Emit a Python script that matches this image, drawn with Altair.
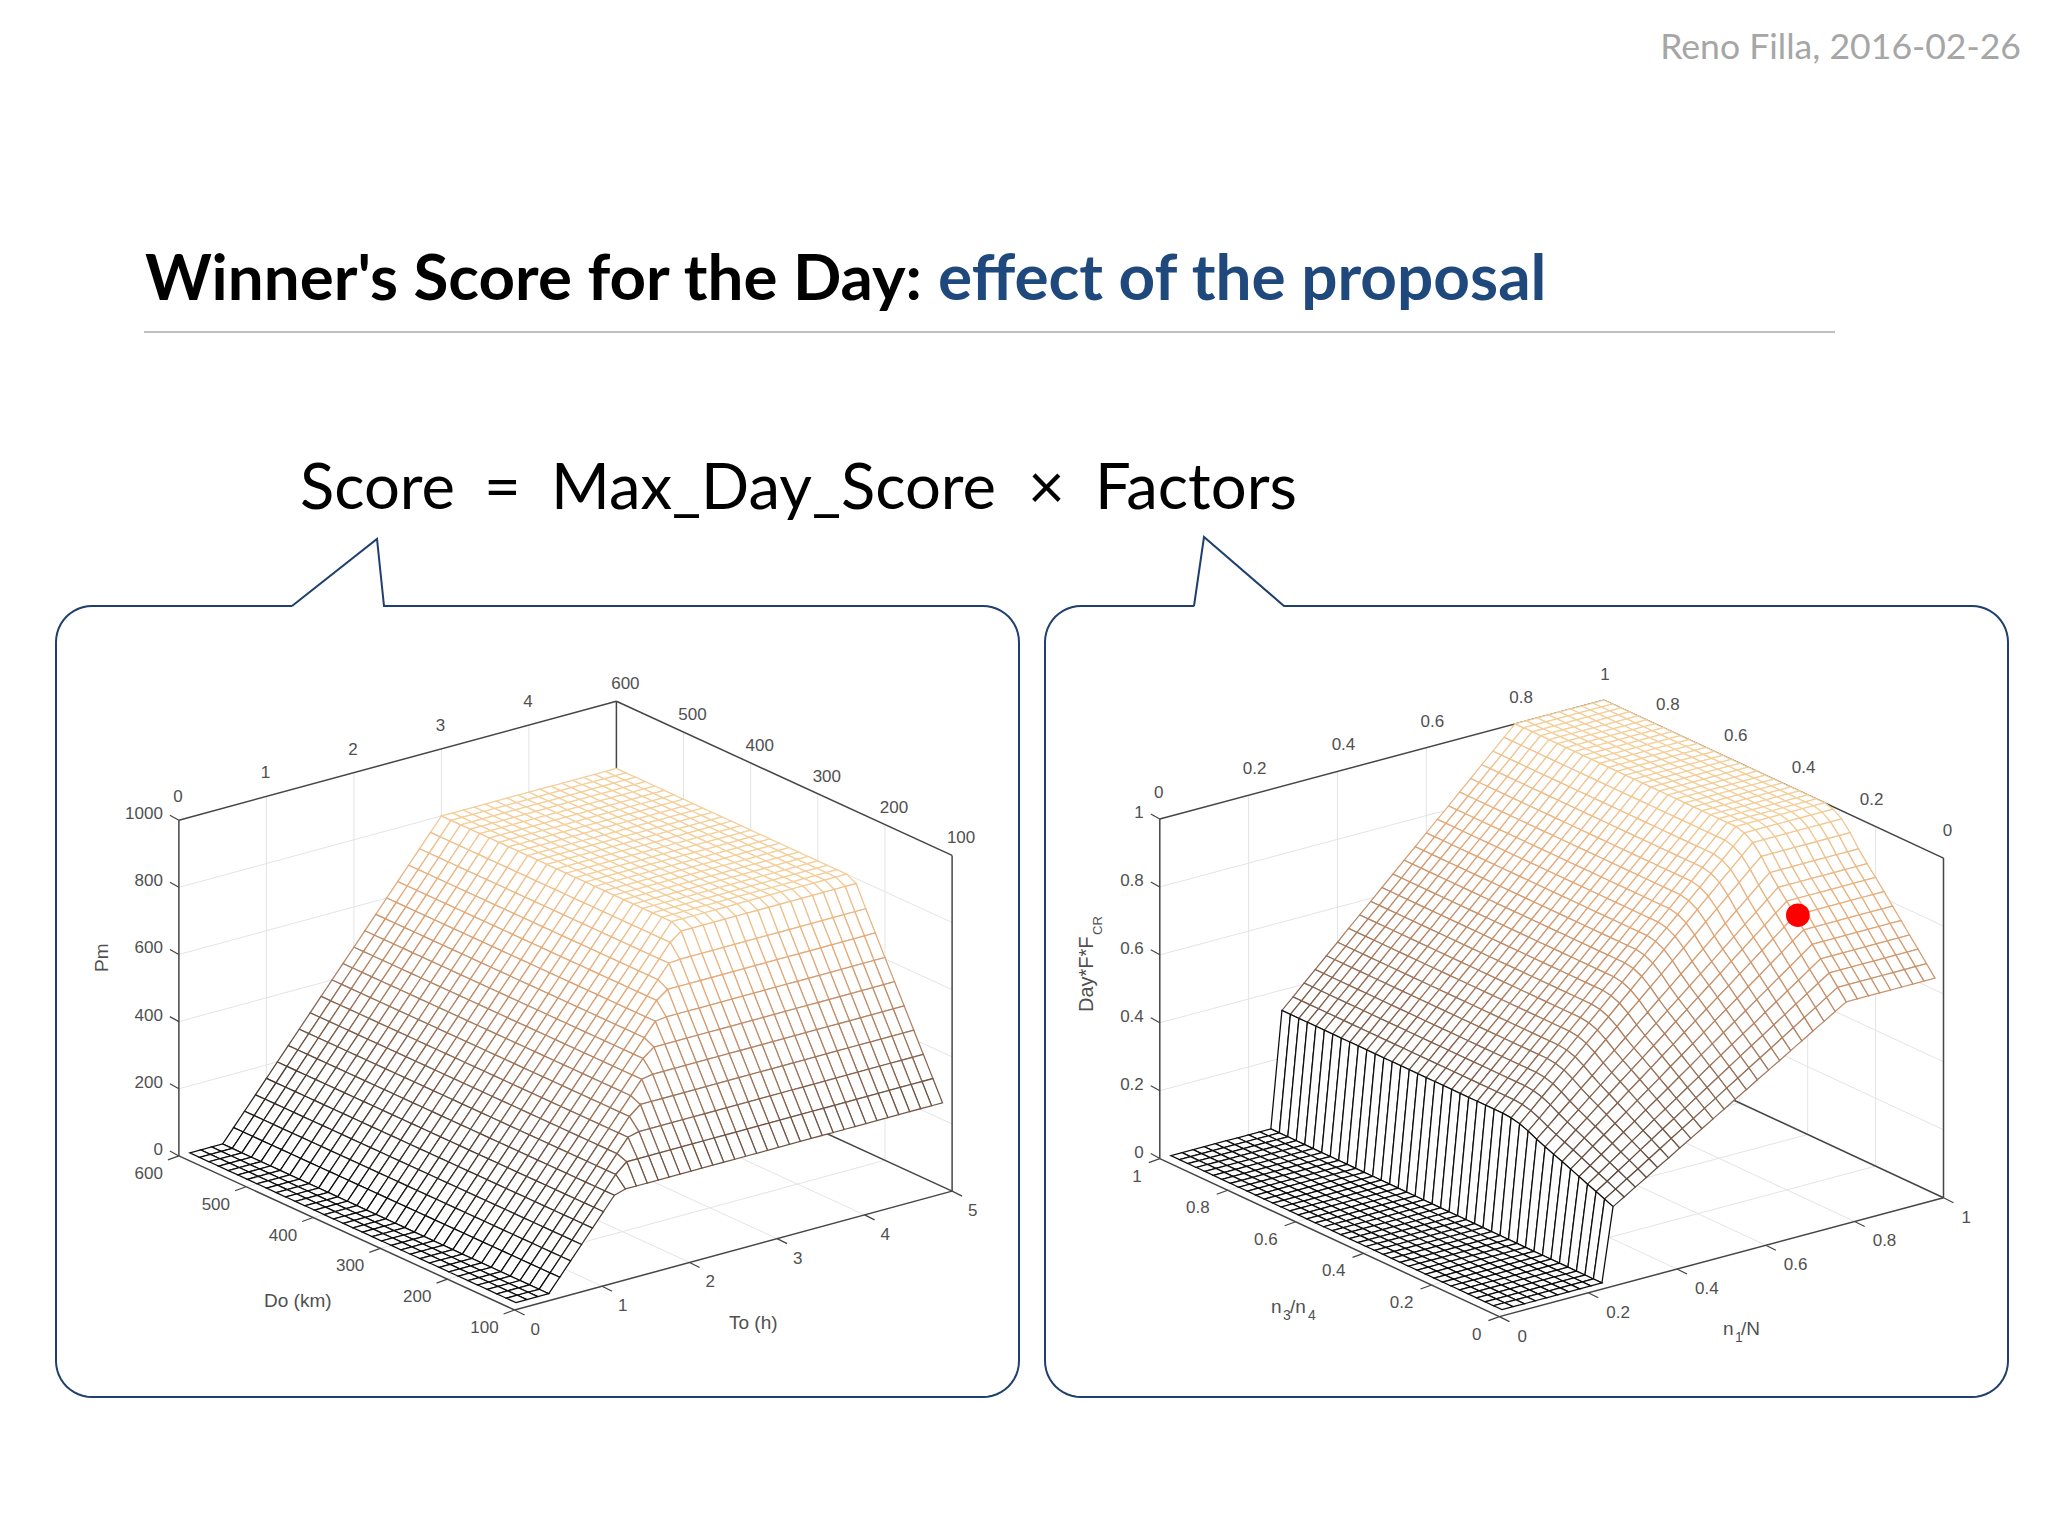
import math
import altair as alt

# ---------- read-off values ----------
TO_GRID = [.125, .25, .375, .5, .625, .75, .875, 1.0, 1.125, 1.25, 1.375, 1.5, 1.625, 1.75, 1.875, 2.0, 2.125, 2.25,
           2.375, 2.5, 2.625, 2.75, 2.875, 3.0, 3.125, 3.25, 3.375, 3.5, 3.625, 3.75, 3.875, 4.0, 4.125, 4.25, 4.375,
           4.5, 4.625, 4.75, 4.875, 5.0]
DO_GRID = [114.3, 128.6, 142.9, 157.1, 171.4, 185.7, 200, 214.3, 228.6, 242.9, 257.1, 271.4, 285.7, 300, 314.3, 328.6,
           342.9, 357.1, 371.4, 385.7, 400, 414.3, 428.6, 442.9, 457.1, 471.4, 485.7, 500, 514.3, 528.6, 542.9, 557.1,
           571.4, 585.7, 600]
PM_BY_TO = [0, 0, 0, 0, 40, 80, 120, 160, 200, 240, 280, 320, 360, 400, 440, 480, 520, 560, 600, 640, 680, 720, 760,
            800] + [800] * 16
PM_BY_DO = [250, 309, 368, 427, 486, 545, 604, 664, 723, 785] + [800] * 25

N1_GRID = [round(0.025 * i, 3) for i in range(1, 41)]
N3_GRID = [round(0.025 * i, 3) for i in range(1, 41)]
F_BY_N1 = [0] * 10 + [.34, .371, .403, .434, .466, .497, .529, .56, .591, .623, .654, .686, .717, .749, .78, .811, .843,
                      .874, .906, .937, .969, 1.0] + [1.0] * 8
G_BY_N3 = [.635, .666, .697, .727, .758, .789, .82, .85, .879, .911, .947, .976, .993, 1.0] + [1.0] * 26
RED_POINT = (0.825, 0.2, 0.80)

LEFT_TO_TICKS = [0, 1, 2, 3, 4, 5]
LEFT_DO_TICKS = [100, 200, 300, 400, 500, 600]
LEFT_Z_TICKS = [0, 200, 400, 600, 800, 1000]
RIGHT_TICKS = [0, 0.2, 0.4, 0.6, 0.8, 1]

# page layout of the two 3-D boxes: origin, three axis vectors (px)
LEFT_BOX = dict(o=(514.6, 1310), a=(437.5, -118.9), b=(-335.7, -154.1), h=335.7)
RIGHT_BOX = dict(o=(1499.4, 1316.6), a=(444.1, -118.9), b=(-339.6, -158.0), h=339.6)


def proj(box, a, b, c):
    return (box["o"][0] + a * box["a"][0] + b * box["b"][0],
            box["o"][1] + a * box["a"][1] + b * box["b"][1] - c * box["h"])


def fmt(v):
    return f"{v:g}"


segs_grid, segs_axis, ticks, labels_tick = [], [], [], []


def seg(store, p, q):
    store.append(dict(x=p[0], y=p[1], x2=q[0], y2=q[1]))


def build_box(box, a_ticks, b_ticks, c_ticks, an, bn, cn):
    P = lambda a, b, c: proj(box, a, b, c)
    is_left = box is LEFT_BOX
    for v in a_ticks[1:-1]:
        a = an(v)
        seg(segs_grid, P(a, 0, 0), P(a, 1, 0))
        seg(segs_grid, P(a, 1, 0), P(a, 1, 1))
    for v in b_ticks[1:-1]:
        b = bn(v)
        seg(segs_grid, P(0, b, 0), P(1, b, 0))
        seg(segs_grid, P(1, b, 0), P(1, b, 1))
    for v in c_ticks[1:-1]:
        c = cn(v)
        seg(segs_grid, P(0, 1, c), P(1, 1, c))
        seg(segs_grid, P(1, 1, c), P(1, 0, c))
    for s, e in [((0, 1, 0), (0, 1, 1)), ((0, 1, 1), (1, 1, 1)), ((1, 1, 1), (1, 0, 1)), ((1, 0, 1), (1, 0, 0)),
                 ((1, 1, 0), (1, 1, 1)), ((0, 0, 0), (0, 1, 0)), ((0, 0, 0), (1, 0, 0)), ((1, 0, 0), (1, 1, 0))]:
        seg(segs_axis, P(*s), P(*e))
    for v in a_ticks:
        p = P(an(v), 0, 0)
        seg(ticks, p, (p[0] + 10, p[1] + 5))
        labels_tick.append(dict(x=p[0] + (16 if is_left else 18), y=p[1] + 20, t=fmt(v), al="left"))
        p = P(an(v), 1, 1)
        if v != a_ticks[-1]:
            labels_tick.append(dict(x=p[0] + (6 if "." in fmt(v) else -1), y=p[1] - (23 if is_left else 26), t=fmt(v),
                                    al="center"))
    for v in b_ticks:
        p = P(0, bn(v), 0)
        seg(ticks, p, (p[0] - 11, p[1] + 4))
        labels_tick.append(dict(x=p[0] - (16 if is_left else 18), y=p[1] + 18, t=fmt(v), al="right"))
        p = P(1, bn(v), 1)
        if is_left:
            dx, dy = 9, -17
        else:
            dx, dy = {0: 4, 1: 1}.get(v, -4), -27 if v != 1 else -25
        labels_tick.append(dict(x=p[0] + dx, y=p[1] + dy, t=fmt(v), al="center"))
    for v in c_ticks:
        p = P(0, 1, cn(v))
        seg(ticks, p, (p[0] - 9, p[1] - 5))
        labels_tick.append(dict(x=p[0] - 16, y=p[1] - 6, t=fmt(v), al="right"))


build_box(LEFT_BOX, LEFT_TO_TICKS, LEFT_DO_TICKS, LEFT_Z_TICKS, lambda v: v / 5, lambda v: (v - 100) / 500,
          lambda v: v / 1000)
build_box(RIGHT_BOX, RIGHT_TICKS, RIGHT_TICKS, RIGHT_TICKS, lambda v: v, lambda v: v, lambda v: v)

features = []


def add_surface(box, A, B, Z, zmax):
    na, nb = len(A), len(B)
    for j in range(nb - 2, -1, -1):
        for i in range(na - 2, -1, -1):
            ring = []
            for ii, jj in [(i, j), (i + 1, j), (i + 1, j + 1), (i, j + 1), (i, j)]:
                x, y = proj(box, A[ii], B[jj], Z(ii, jj))
                ring.append([round(x - 8, 2), round(y - 8, 2)])
            features.append({"type": "Feature", "properties": {"z": Z(i, j) / zmax},
                             "geometry": {"type": "Polygon", "coordinates": [ring]}})


add_surface(LEFT_BOX, [t / 5 for t in TO_GRID], [(d - 100) / 500 for d in DO_GRID],
            lambda i, j: min(PM_BY_TO[i], PM_BY_DO[j]) / 1000, 0.8)
add_surface(RIGHT_BOX, N1_GRID, N3_GRID, lambda i, j: F_BY_N1[i] * G_BY_N3[j], 1.0)

# ---------- slide furniture ----------


def callout(x0, x1, y0, y1, r, tail):
    pts = [tail[0], tail[1], tail[2]]
    for cx, cy, a0 in [(x1 - r, y0 + r, -90), (x1 - r, y1 - r, 0), (x0 + r, y1 - r, 90), (x0 + r, y0 + r, 180)]:
        for k in range(13):
            a = math.radians(a0 + 7.5 * k)
            pts.append((cx + r * math.cos(a), cy + r * math.sin(a)))
    pts.append(tail[0])
    return pts


box_rows = []
for name, pts in [("L", callout(56, 1019, 606, 1397, 36, [(292, 606), (377, 539), (384, 606)])),
                  ("R", callout(1045, 2008, 606, 1397, 36, [(1194, 606), (1204, 537), (1284, 606)]))]:
    for k, (x, y) in enumerate(pts):
        box_rows.append(dict(x=x, y=y, k=k, n=name))

XS = alt.Scale(domain=[8, 2040], nice=False, zero=False)
YS = alt.Scale(domain=[8, 1528], reverse=True, nice=False, zero=False)
X = alt.X("x:Q", scale=XS, axis=None)
Y = alt.Y("y:Q", scale=YS, axis=None)


def rules(rows, color, w):
    return alt.Chart(alt.Data(values=rows)).mark_rule(color=color, strokeWidth=w).encode(
        x=X, y=Y, x2="x2:Q", y2="y2:Q")


def text(rows, font="Liberation Sans", size=17, color="#505050", weight="normal", align="left", angle=0):
    return alt.Chart(alt.Data(values=rows)).mark_text(font=font, fontSize=size, color=color, fontWeight=weight,
                                                      align=align, baseline="middle", angle=angle).encode(
        x=X, y=Y, text="t:N")


def T(x, y, t):
    return dict(x=x, y=y, t=t)


surface = alt.Chart(alt.Data(values=features)).mark_geoshape(fill="white", strokeWidth=1.25).encode(
    stroke=alt.Stroke("properties.z:Q", legend=None,
                      scale=alt.Scale(domain=[0, 0.25, 0.5, 0.75, 1],
                                      range=["#0d0d0d", "#5e4a3e", "#a87c60", "#e4a878", "#f5cf9a"]))
).project(type="identity", scale=1, translate=[0, 0])

boxes = alt.Chart(alt.Data(values=box_rows)).mark_line(color="#1f3f6e", strokeWidth=2).encode(
    x=X, y=Y, order="k:Q", detail="n:N")

rx, ry = proj(RIGHT_BOX, RED_POINT[0], RED_POINT[1], RED_POINT[2])
red = alt.Chart(alt.Data(values=[dict(x=rx, y=ry)])).mark_point(filled=True, color="#ff0000", size=560, opacity=1).encode(
    x=X, y=Y)

tick_layers = [text([r for r in labels_tick if r["al"] == al], align=al) for al in ("left", "center", "right")]

chart = alt.layer(
    rules([dict(x=144, y=332, x2=1835, y2=332)], "#bfbfbf", 2),
    boxes,
    rules(segs_grid, "#e4e4e8", 1),
    rules(segs_axis, "#454545", 1.5),
    rules(ticks, "#454545", 1.2),
    surface,
    red,
    *tick_layers,
    text([T(2021, 48, "Reno Filla, 2016-02-26")], font="Lato", size=35.6, color="#a6a6a6", align="right"),
    text([T(145, 281, "Winner's Score for the Day:")], font="Lato", size=63.7, color="#000000", weight="bold"),
    text([T(938, 281, "effect of the proposal")], font="Lato", size=63.9, color="#1f497d", weight="bold"),
    text([T(300, 490, "Score"), T(484, 490, "="), T(551, 490, "Max_Day_Score"), T(1028, 490, "×"),
          T(1095, 490, "Factors")], font="Lato", size=63.4, color="#000000"),
    text([T(102, 972, "Pm")], size=19, angle=270),
    text([T(1087, 1012, "Day*F*F")], size=20, angle=270),
    text([T(1098, 935, "CR")], size=13, angle=270),
    text([T(264, 1301, "Do (km)"), T(729, 1323, "To (h)"), T(1271, 1307, "n"), T(1290, 1307, "/n"),
          T(1723, 1329, "n"), T(1741, 1329, "/N")], size=19),
    text([T(1283, 1316, "3"), T(1308, 1316, "4"), T(1735, 1338, "1")], size=14),
).properties(width=2032, height=1520, padding=0, autosize=alt.AutoSizeParams(type="none")).configure_view(stroke=None)

chart.save("out.html", embed_options={"renderer": "svg", "actions": False})
